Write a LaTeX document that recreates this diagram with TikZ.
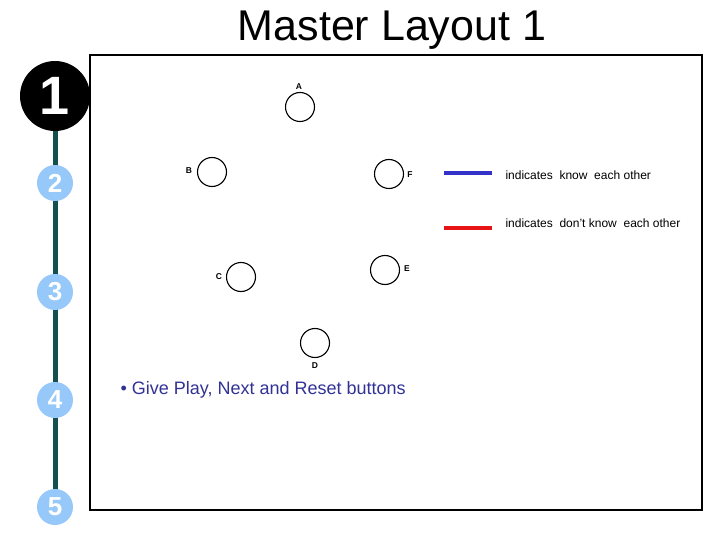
\documentclass[tikz,border=0pt]{standalone}
\usepackage{fontspec}
\setmainfont{Liberation Sans}
\begin{document}
\begin{tikzpicture}[x=1pt,y=-1pt,
  person/.style={circle,draw,line width=1.1pt,minimum size=29pt,inner sep=0pt},
  lab/.style={font=\fontsize{8.5}{8.5}\selectfont\bfseries},
  step5/.style={circle,fill={rgb,255:red,150;green,200;blue,250},minimum size=36pt,inner sep=0pt,text=white,font=\fontsize{26}{26}\selectfont\bfseries},
  leg/.style={font=\fontsize{12}{12}\selectfont,anchor=west}]
\useasboundingbox (0,0) rectangle (720,540);
\fill[white] (0,0) rectangle (720,540);
\node[font=\fontsize{43}{43}\selectfont] (title) at (392,30) {Master Layout 1};
\draw[line width=2.5pt] (90,55) rectangle (702,510);
\coordinate (tt) at (55,100);
\coordinate (tb) at (55,505);
\draw[line width=5pt,color={rgb,255:red,20;green,80;blue,80}] (tt) -- (tb);
\node[circle,fill=black,minimum size=70pt,inner sep=0pt,text=white,font=\fontsize{54}{54}\selectfont\bfseries] (s1) at (55,96) {1};
\node[step5] (s2) at (55,183) {2};
\node[step5] (s3) at (55,292) {3};
\node[step5] (s4) at (55,400) {4};
\node[step5] (s5) at (55,507) {5};
\node[person] (A) at (300,107) {};
\node[person] (B) at (212,172) {};
\node[person] (F) at (389,174) {};
\node[person] (C) at (241,277) {};
\node[person] (E) at (385,270) {};
\node[person] (D) at (315,343) {};
\node[lab] (lA) at (299,87) {A};
\node[lab] (lB) at (189,171) {B};
\node[lab] (lF) at (410,175) {F};
\node[lab] (lC) at (219,277) {C};
\node[lab] (lE) at (407,269) {E};
\node[lab] (lD) at (315,366) {D};
\coordinate (b1) at (444,173); \coordinate (b2) at (492,173);
\coordinate (r1) at (444,228); \coordinate (r2) at (492,228);
\draw[line width=3.5pt,color={rgb,255:red,50;green,50;blue,200}] (b1) -- (b2);
\draw[line width=3.5pt,color={rgb,255:red,230;green,20;blue,20}] (r1) -- (r2);
\node[leg] (t1) at (502,175) {indicates\ \ know\ \ each other};
\node[leg] (t2) at (502,223) {indicates\ \ don't know\ \ each other};
\node[anchor=west,font=\fontsize{18}{18}\selectfont,text={rgb,255:red,50;green,50;blue,150}] (bul) at (117,390) {\textbullet\ Give Play, Next and Reset buttons};
\end{tikzpicture}
\end{document}
